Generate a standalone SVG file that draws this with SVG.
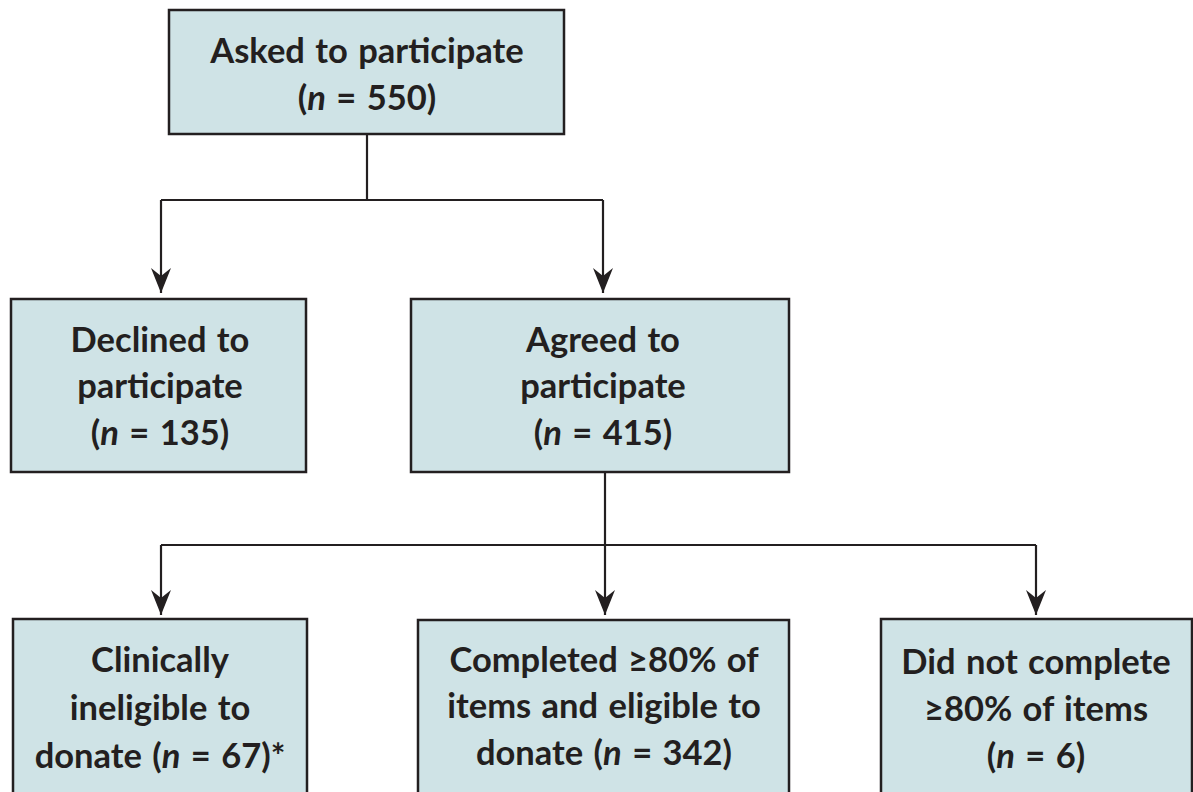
<svg xmlns="http://www.w3.org/2000/svg" width="1193" height="792" viewBox="0 0 1193 792">
<style>
.box{fill:#cfe3e6;stroke:#231f20;stroke-width:2.5}
.t{font-family:Lato,"Open Sans","Liberation Sans",sans-serif;font-weight:700;font-size:34.5px;word-spacing:2px;fill:#231f20;text-anchor:middle}
.c{fill:none;stroke:#231f20;stroke-width:2.2}
.i{font-style:italic}
</style>
<defs>
<marker id="ah" markerUnits="userSpaceOnUse" markerWidth="30" markerHeight="30" refX="0" refY="0" orient="auto" overflow="visible">
<path d="M0,0 L-25,-10 L-17,0 L-25,10 Z" fill="#231f20"/>
</marker>
</defs>
<rect width="1193" height="792" fill="#ffffff"/>
<g id="connectors">
<path class="c" d="M367,134 V200"/>
<path class="c" d="M161,200 H603"/>
<path class="c" d="M161,200 V293" marker-end="url(#ah)"/>
<path class="c" d="M603,200 V293" marker-end="url(#ah)"/>
<path class="c" d="M605,472 V545"/>
<path class="c" d="M161,545 H1036"/>
<path class="c" d="M161,545 V615" marker-end="url(#ah)"/>
<path class="c" d="M605,545 V615" marker-end="url(#ah)"/>
<path class="c" d="M1036,545 V615" marker-end="url(#ah)"/>
</g>
<g id="asked">
<rect class="box" x="169" y="10" width="395" height="124"/>
<text class="t" x="367" y="63">Asked to participate</text>
<text class="t" x="367" y="110">(<tspan class="i">n</tspan> = 550)</text>
</g>
<g id="declined">
<rect class="box" x="11" y="299" width="295" height="173"/>
<text class="t" x="160" y="352">Declined to</text>
<text class="t" x="160" y="398">participate</text>
<text class="t" x="160" y="445">(<tspan class="i">n</tspan> = 135)</text>
</g>
<g id="agreed">
<rect class="box" x="411" y="299" width="378" height="173"/>
<text class="t" x="603" y="352">Agreed to</text>
<text class="t" x="603" y="398">participate</text>
<text class="t" x="603" y="445">(<tspan class="i">n</tspan> = 415)</text>
</g>
<g id="ineligible">
<rect class="box" x="13" y="619" width="294" height="190"/>
<text class="t" x="160" y="672">Clinically</text>
<text class="t" x="160" y="720">ineligible to</text>
<text class="t" x="160" y="768">donate (<tspan class="i">n</tspan> = 67)*</text>
</g>
<g id="completed">
<rect class="box" x="418" y="620" width="371" height="190"/>
<text class="t" x="604" y="672">Completed ≥80% of</text>
<text class="t" x="604" y="718">items and eligible to</text>
<text class="t" x="604" y="765">donate (<tspan class="i">n</tspan> = 342)</text>
</g>
<g id="notcompleted">
<rect class="box" x="881" y="619" width="311" height="190"/>
<text class="t" x="1036" y="674">Did not complete</text>
<text class="t" x="1036" y="721">≥80% of items</text>
<text class="t" x="1036" y="768">(<tspan class="i">n</tspan> = 6)</text>
</g>
</svg>
